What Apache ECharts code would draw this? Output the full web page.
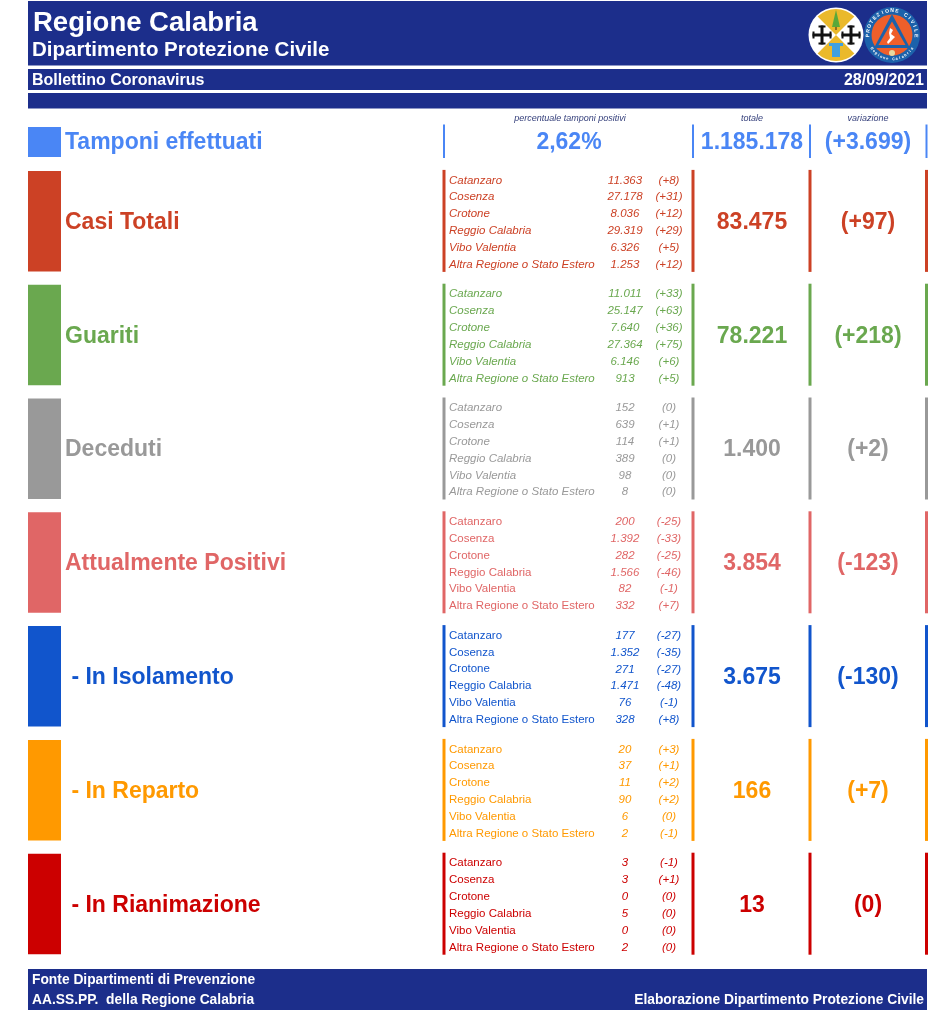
<!DOCTYPE html>
<html>
<head>
<meta charset="utf-8">
<title>Bollettino Coronavirus</title>
<style>
html,body{margin:0;padding:0;background:#fff;}
#main{width:935px;height:1024px;}
</style>
<script src="https://cdn.jsdelivr.net/npm/echarts@6/dist/echarts.min.js"></script>
</head>
<body>
<div id="main"></div>
<script>
var province = ["Catanzaro","Cosenza","Crotone","Reggio Calabria","Vibo Valentia","Altra Regione o Stato Estero"];
var metriche = ["Casi Totali","Guariti","Deceduti","Attualmente Positivi"," - In Isolamento"," - In Reparto"," - In Rianimazione"];

var casiValori = ["11.363","27.178","8.036","29.319","6.326","1.253"];
var casiVar = ["(+8)","(+31)","(+12)","(+29)","(+5)","(+12)"];
var guaritiValori = ["11.011","25.147","7.640","27.364","6.146","913"];
var guaritiVar = ["(+33)","(+63)","(+36)","(+75)","(+6)","(+5)"];
var decedutiValori = ["152","639","114","389","98","8"];
var decedutiVar = ["(0)","(+1)","(+1)","(0)","(0)","(0)"];
var positiviValori = ["200","1.392","282","1.566","82","332"];
var positiviVar = ["(-25)","(-33)","(-25)","(-46)","(-1)","(+7)"];
var isolamentoValori = ["177","1.352","271","1.471","76","328"];
var isolamentoVar = ["(-27)","(-35)","(-27)","(-48)","(-1)","(+8)"];
var repartoValori = ["20","37","11","90","6","2"];
var repartoVar = ["(+3)","(+1)","(+2)","(+2)","(0)","(-1)"];
var rianimazioneValori = ["3","3","0","5","0","2"];
var rianimazioneVar = ["(-1)","(+1)","(0)","(0)","(0)","(0)"];

var totali = ["83.475","78.221","1.400","3.854","3.675","166","13"];
var variazioni = ["(+97)","(+218)","(+2)","(-123)","(-130)","(+7)","(0)"];

var valori = [casiValori,guaritiValori,decedutiValori,positiviValori,isolamentoValori,repartoValori,rianimazioneValori];
var varProvince = [casiVar,guaritiVar,decedutiVar,positiviVar,isolamentoVar,repartoVar,rianimazioneVar];

var colori = ["#cc4125","#6aa84f","#999999","#e06666","#1155cc","#ff9900","#cc0000"];
var nomiCorsivi = [true,true,true,false,false,false,false];

var tamponiNome = "Tamponi effettuati";
var tamponiPerc = "2,62%";
var tamponiTotale = "1.185.178";
var tamponiVar = "(+3.699)";

var BLU = "#1c2e8b";
var AZZURRO = "#4a86f5";
var FONT = '"Liberation Sans",Arial,sans-serif';

function testo(s, x, y, size, fill, align, bold, italic) {
    return {
        type: "text",
        silent: true,
        style: {
            text: s, x: x, y: y + 1.5, fill: fill,
            font: (italic ? "italic " : "") + (bold ? "bold " : "") + size + "px " + FONT,
            textAlign: align || "left",
            textVerticalAlign: "middle"
        }
    };
}

function fascia(x, y, w, h, fill) {
    return {type: "rect", silent: true, shape: {x: x, y: y, width: w, height: h}, style: {fill: fill}};
}

function riga(x, y1, y2, color, w) {
    return {type: "line", silent: true, shape: {x1: x, y1: y1, x2: x, y2: y2}, style: {stroke: color, lineWidth: w}};
}

// ogni blocco: riquadro, nome, elenco province, totale e variazione
function renderBlocco(params, api) {
    var i = api.value(1);
    var cy = api.coord([0, i])[1];
    var col = colori[i];
    var children = [];
    children.push(fascia(api.coord([28, i])[0], cy - 50, 33, 100.5, col));
    children.push(testo(metriche[i], api.coord([65, i])[0], cy, 23, col, "left", true));
    [444, 693, 810, 926.5].forEach(function (x) {
        children.push(riga(api.coord([x, i])[0], cy - 51, cy + 51, col, 3));
    });
    for (var r = 0; r < province.length; r++) {
        var y = cy - 42 + r * 16.85;
        children.push(testo(province[r], api.coord([449, i])[0], y, 11.5, col, "left", false, nomiCorsivi[i]));
        children.push(testo(valori[i][r], api.coord([625, i])[0], y, 11.5, col, "center", false, true));
        children.push(testo(varProvince[i][r], api.coord([669, i])[0], y, 11.5, col, "center", false, true));
    }
    children.push(testo(totali[i], api.coord([752, i])[0], cy, 23, col, "center", true));
    children.push(testo(variazioni[i], api.coord([868, i])[0], cy, 23, col, "center", true));
    return {type: "group", children: children};
}

function croce(cx, cy) {
    return [
        fascia(cx - 1.5, cy - 9.5, 3, 19, "#111"), fascia(cx - 9.5, cy - 1.5, 19, 3, "#111"),
        fascia(cx - 3.5, cy - 9.5, 7, 2, "#111"), fascia(cx - 3.5, cy + 7.5, 7, 2, "#111"),
        fascia(cx - 9.5, cy - 3.5, 2, 7, "#111"), fascia(cx + 7.5, cy - 3.5, 2, 7, "#111")
    ];
}

function testoArco(s, cx, cy, r, centro, passo, size) {
    var out = [];
    var basso = centro > 0;
    for (var k = 0; k < s.length; k++) {
        var a = centro + (basso ? -1 : 1) * (k - (s.length - 1) / 2) * passo;
        var el = testo(s.charAt(k), 0, 0, size, "#fff", "center", true);
        el.style.y = 0;
        el.x = cx + r * Math.cos(a);
        el.y = cy + r * Math.sin(a);
        el.rotation = basso ? -(a - Math.PI / 2) : -(a + Math.PI / 2);
        out.push(el);
    }
    return out;
}

function stemmaRegione(cx, cy) {
    var q = Math.PI / 4;
    var el = [
        {type: "circle", silent: true, shape: {cx: cx, cy: cy, r: 27.5}, style: {fill: "#fff"}},
        {type: "sector", silent: true, shape: {cx: cx, cy: cy, r: 26, r0: 0, startAngle: -3 * q, endAngle: -q, clockwise: true}, style: {fill: "#eab92b"}},
        {type: "sector", silent: true, shape: {cx: cx, cy: cy, r: 26, r0: 0, startAngle: q, endAngle: 3 * q, clockwise: true}, style: {fill: "#eab92b"}},
        {type: "polygon", silent: true, shape: {points: [[cx, cy - 25], [cx - 4, cy - 8], [cx + 4, cy - 8]]}, style: {fill: "#58a83a"}},
        fascia(cx - 0.7, cy - 8, 1.4, 3, "#6b4a1e"),
        fascia(cx - 7, cy + 8, 14, 3, "#3ea0e0"),
        fascia(cx - 4, cy + 11, 8, 11, "#3ea0e0")
    ];
    return el.concat(croce(cx - 14, cy), croce(cx + 15, cy));
}

function stemmaProtezione(cx, cy) {
    var blu = "#1c62ab", arancio = "#ee5f2b";
    var el = [
        {type: "circle", silent: true, shape: {cx: cx, cy: cy, r: 28}, style: {fill: blu}},
        {type: "circle", silent: true, shape: {cx: cx, cy: cy, r: 20.5}, style: {fill: arancio}},
        {type: "polygon", silent: true, shape: {points: [[cx, cy - 21], [cx - 18, cy + 13], [cx + 18, cy + 13]]}, style: {fill: blu}},
        {type: "polygon", silent: true, shape: {points: [[cx, cy - 13.5], [cx - 13.5, cy + 10], [cx + 13.5, cy + 10]]}, style: {fill: arancio}},
        {type: "polygon", silent: true, shape: {points: [[cx - 2, cy - 7], [cx + 1, cy - 5], [cx - 1, cy - 1], [cx + 3, cy + 2], [cx + 1, cy + 4], [cx - 4, cy + 9], [cx - 5, cy + 7], [cx - 2, cy + 3], [cx - 3, cy - 2]]}, style: {fill: "#fff"}},
        {type: "circle", silent: true, shape: {cx: cx, cy: cy + 18, r: 3}, style: {fill: "#e8d9a0"}}
    ];
    return el.concat(
        testoArco("PROTEZIONE CIVILE", cx, cy, 24.2, -Math.PI / 2, 0.2, 5),
        testoArco("Regione Calabria", cx, cy, 24.2, Math.PI / 2, 0.13, 3.8)
    );
}

function cornice() {
    var g = [];
    g.push(fascia(28, 1, 899, 64.5, BLU));
    g.push(fascia(28, 69, 899, 21, BLU));
    g.push(fascia(28, 93, 899, 15.5, BLU));
    g.push(fascia(28, 969, 899, 41, BLU));

    g = g.concat(stemmaRegione(836, 35), stemmaProtezione(892, 35));

    g.push(testo("Regione Calabria", 33, 21.5, 27.5, "#fff", "left", true));
    g.push(testo("Dipartimento Protezione Civile", 32, 49, 20.5, "#fff", "left", true));
    g.push(testo("Bollettino Coronavirus", 32, 79, 16, "#fff", "left", true));
    g.push(testo("28/09/2021", 924, 79, 16, "#fff", "right", true));
    g.push(testo("Fonte Dipartimenti di Prevenzione", 32, 979, 13.8, "#fff", "left", true));
    g.push(testo("AA.SS.PP.  della Regione Calabria", 32, 999, 13.8, "#fff", "left", true));
    g.push(testo("Elaborazione Dipartimento Protezione Civile", 924, 999, 13.8, "#fff", "right", true));

    g.push(testo("percentuale tamponi positivi", 570, 116.5, 9, "#333e7a", "center", false, true));
    g.push(testo("totale", 752, 116.5, 9, "#333e7a", "center", false, true));
    g.push(testo("variazione", 868, 116.5, 9, "#333e7a", "center", false, true));

    g.push(fascia(28, 127, 33, 30, AZZURRO));
    g.push(testo(tamponiNome, 65, 141, 23, AZZURRO, "left", true));
    [444, 693, 810, 926.5].forEach(function (x) {
        g.push(riga(x, 124.5, 158, AZZURRO, 2));
    });
    g.push(testo(tamponiPerc, 569, 141, 23, AZZURRO, "center", true));
    g.push(testo(tamponiTotale, 752, 141, 23, AZZURRO, "center", true));
    g.push(testo(tamponiVar, 868, 141, 23, AZZURRO, "center", true));
    return g;
}

var dati = metriche.map(function (m, i) {
    return [0, i];
});

var myChart = echarts.init(document.getElementById("main"), null, {renderer: "canvas"});
var option = {
    animation: false,
    backgroundColor: "#fff",
    grid: {left: 0, right: 0, top: 164, height: 796.6},
    xAxis: {type: "value", min: 0, max: 935, show: false},
    yAxis: {type: "category", data: metriche, inverse: true, show: false},
    graphic: {elements: cornice()},
    series: [{
        type: "custom",
        coordinateSystem: "cartesian2d",
        clip: false,
        silent: true,
        renderItem: renderBlocco,
        encode: {x: 0, y: 1},
        data: dati
    }]
};
myChart.setOption(option);
</script>
</body>
</html>
